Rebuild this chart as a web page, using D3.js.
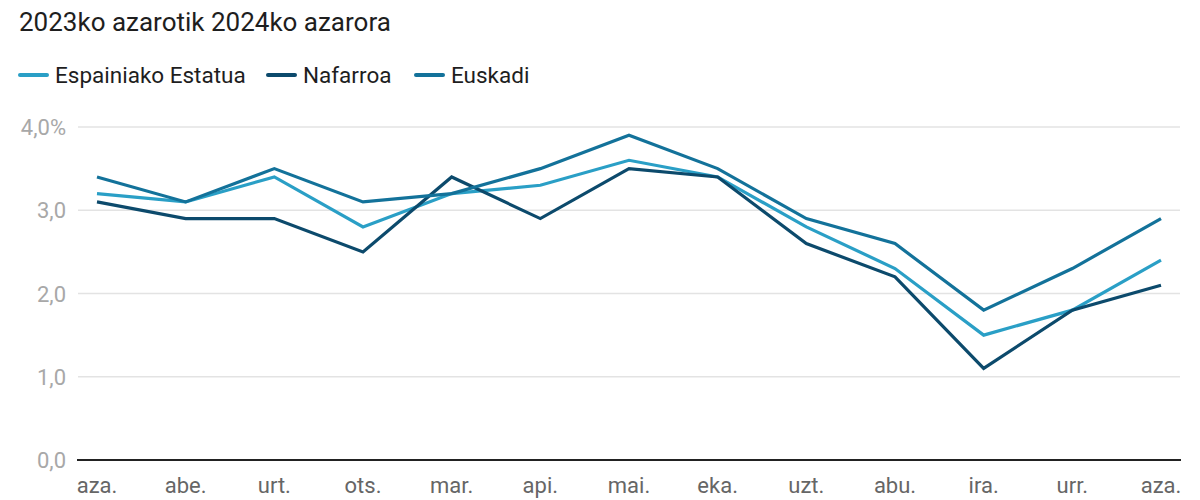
<!DOCTYPE html>
<html>
<head>
<meta charset="utf-8">
<script src="https://cdn.jsdelivr.net/npm/d3@7"></script>
<style>
  body { margin: 0; background: #fff; }
  text { font-family: Roboto, "Noto Sans", sans-serif; }
</style>
</head>
<body>
<div id="chart"></div>
<script>
var width = 1200;
var height = 500;

var months = ['aza.', 'abe.', 'urt.', 'ots.', 'mar.', 'api.', 'mai.', 'eka.', 'uzt.', 'abu.', 'ira.', 'urr.', 'aza.'];
var espainia = [3.2, 3.1, 3.4, 2.8, 3.2, 3.3, 3.6, 3.4, 2.8, 2.3, 1.5, 1.8, 2.4];
var nafarroa = [3.1, 2.9, 2.9, 2.5, 3.4, 2.9, 3.5, 3.4, 2.6, 2.2, 1.1, 1.8, 2.1];
var euskadi = [3.4, 3.1, 3.5, 3.1, 3.2, 3.5, 3.9, 3.5, 2.9, 2.6, 1.8, 2.3, 2.9];
var yTicks = [0, 1, 2, 3, 4];

var series = [
  { name: 'Espainiako Estatua', values: espainia, color: '#2a9fc6' },
  { name: 'Nafarroa', values: nafarroa, color: '#0c4a6c' },
  { name: 'Euskadi', values: euskadi, color: '#13729a' }
];

var svg = d3.select('#chart')
  .append('svg')
  .attr('width', width)
  .attr('height', height);

// title
svg.append('text')
  .attr('x', 19)
  .attr('y', 31)
  .style('font-size', '26px')
  .style('fill', '#1e1e1e')
  .text('2023ko azarotik 2024ko azarora');

// legend
var legendX = [20, 268, 416];
var legend = svg.selectAll('.legend')
  .data(series)
  .enter().append('g')
  .attr('transform', function(d, i) { return 'translate(' + legendX[i] + ',75)'; });
legend.append('line')
  .attr('x1', 0).attr('x2', 27)
  .attr('stroke', function(d) { return d.color; })
  .attr('stroke-width', 4)
  .attr('stroke-linecap', 'round');
legend.append('text')
  .attr('x', 35)
  .attr('y', 8)
  .style('font-size', '22.5px')
  .style('fill', '#1e1e1e')
  .text(function(d) { return d.name; });

var x = d3.scalePoint()
  .domain(d3.range(months.length))
  .range([97, 1161]);

var y = d3.scaleLinear()
  .domain([0, 4])
  .range([460, 127]);

// gridlines
svg.selectAll('.grid')
  .data(yTicks.filter(function(d) { return d > 0; }))
  .enter().append('line')
  .attr('x1', 78).attr('x2', 1180)
  .attr('y1', function(d) { return y(d); })
  .attr('y2', function(d) { return y(d); })
  .attr('stroke', '#e3e3e3')
  .attr('stroke-width', 1.5);

// baseline
svg.append('line')
  .attr('x1', 77).attr('x2', 1181)
  .attr('y1', y(0)).attr('y2', y(0))
  .attr('stroke', '#222')
  .attr('stroke-width', 2);

// y labels
svg.selectAll('.ylab')
  .data(yTicks)
  .enter().append('text')
  .attr('x', 66)
  .attr('y', function(d) { return y(d) + 8; })
  .attr('text-anchor', 'end')
  .style('font-size', '22px')
  .style('fill', '#a8a8a8')
  .text(function(d) {
    var s = d3.format('.1f')(d).replace('.', ',');
    return d === 4 ? s + '%' : s;
  });

// x labels
svg.selectAll('.xlab')
  .data(months)
  .enter().append('text')
  .attr('x', function(d, i) { return x(i); })
  .attr('y', 493)
  .attr('text-anchor', 'middle')
  .style('font-size', '22px')
  .style('fill', '#666')
  .text(function(d) { return d; });

var line = d3.line()
  .x(function(d, i) { return x(i); })
  .y(function(d) { return y(d); });

svg.selectAll('.series')
  .data(series)
  .enter().append('path')
  .attr('d', function(d) { return line(d.values); })
  .attr('fill', 'none')
  .attr('stroke', function(d) { return d.color; })
  .attr('stroke-width', 3.2)
  .attr('stroke-linejoin', 'miter');
</script>
</body>
</html>
